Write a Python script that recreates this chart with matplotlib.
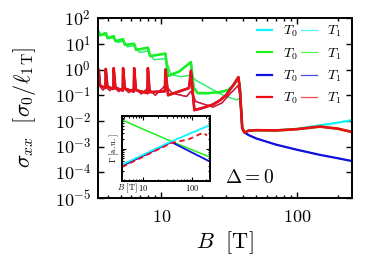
import numpy as np
import matplotlib
matplotlib.use('Agg')
import matplotlib.pyplot as plt
from matplotlib.lines import Line2D
from matplotlib.ticker import FixedLocator, FixedFormatter, NullFormatter, NullLocator

plt.rcParams['mathtext.fontset'] = 'cm'
plt.rcParams['font.family'] = ['DejaVu Serif']

# ---------------- data (log10 of sigma_xx) ----------------
# Shubnikov-de Haas regime (B < 39.5 T); cyan = green, blue = red there
green_T0_B = [3.40, 3.44, 3.54, 3.88, 4.00, 4.44, 4.58, 5.21, 5.38, 6.29, 6.50, 7.94, 8.25,
              10.7, 11.2, 13.5, 16.5, 17.3, 18.5, 22.0, 27.0, 31.0, 34.0, 36.0, 37.0, 38.0, 39.0]
green_T0_log = [1.44, 1.47, 1.33, 1.42, 1.22, 1.30, 1.10, 1.18, 0.96, 1.00, 0.76, 0.85, 0.52,
                0.62, -0.25, -0.08, 0.29, -0.70, -0.92, -0.92, -0.88, -0.80, -0.62, -0.42, -0.30, -0.75, -1.80]

green_T1_B = [3.40, 3.60, 3.88, 4.10, 4.44, 4.75, 5.21, 5.60, 6.29, 6.90, 7.94, 8.80, 10.7,
              11.8, 14.0, 16.5, 18.0, 22.7, 28.0, 33.0, 36.0, 37.5, 38.5, 39.0]
green_T1_log = [1.40, 1.33, 1.35, 1.20, 1.24, 1.05, 1.09, 0.88, 0.92, 0.66, 0.72, 0.38, 0.42,
                -0.20, -0.28, -0.22, -0.42, -0.72, -0.98, -1.12, -1.18, -1.12, -1.60, -1.95]

red_T0_B = [3.40, 3.44, 3.52, 3.86, 3.88, 3.99, 4.42, 4.44, 4.57, 5.18, 5.21, 5.37, 6.25, 6.29,
            6.48, 7.89, 7.94, 8.18, 10.6, 10.7, 11.2, 16.0, 16.5, 17.5, 20.0, 24.0, 27.0, 30.0,
            34.0, 36.0, 37.0, 38.0, 39.0]
red_T0_log = [-0.55, 0.00, -0.62, -0.72, 0.02, -0.66, -0.76, 0.05, -0.70, -0.82, 0.05, -0.74, -0.86, 0.05,
              -0.80, -0.92, 0.05, -0.88, -0.85, 0.00, -1.00, -0.72, -0.05, -1.58, -1.50, -1.36, -1.20, -1.00,
              -0.60, -0.40, -0.30, -0.80, -1.80]

red_T1_B = [3.40, 3.44, 3.70, 3.88, 4.15, 4.44, 4.85, 5.21, 5.75, 6.29, 7.10, 7.94, 9.00, 10.7,
            12.0, 15.3, 16.5, 18.0, 24.0, 28.0, 32.0, 35.0, 36.8, 38.0, 39.0]
red_T1_log = [-0.70, -0.60, -0.80, -0.66, -0.82, -0.68, -0.86, -0.70, -0.90, -0.72, -0.95, -0.72, -1.00, -0.62,
              -0.92, -1.05, -0.85, -1.25, -1.46, -1.30, -0.95, -0.75, -0.62, -1.00, -1.85]

# high-field regime (B >= 39.5 T)
tail_B = [39.5, 41.0, 44.0, 50.0, 70.0, 100.0, 148.0, 200.0, 255.0]
red_tail_log = [-2.28, -2.45, -2.38, -2.36, -2.37, -2.32, -2.22, -2.30, -2.43]
cyan_tail_log = [-2.28, -2.45, -2.38, -2.36, -2.37, -2.31, -2.17, -2.07, -1.97]
blue_tail_log = [-2.28, -2.45, -2.55, -2.68, -2.92, -3.12, -3.32, -3.45, -3.56]

# inset: Gamma (a.u.)
inset_green_B = [3.6, 37.8, 235.0]
inset_green = [0.88, 0.22, -0.26]
inset_blue_B = [3.6, 37.8, 235.0]
inset_blue = [-0.54, 0.20, -0.40]
inset_cyan_B = [3.6, 37.8, 235.0]
inset_cyan = [-0.50, 0.22, 0.72]
inset_red_B = [3.6, 37.8, 88.0, 150.0, 175.0, 205.0]
inset_red = [-0.57, 0.17, 0.29, 0.45, 0.48, 0.40]

ytick_vals = [1e-5, 1e-4, 1e-3, 1e-2, 1e-1, 1e0, 1e1, 1e2]
ytick_labels = [r'$10^{-5}$', r'$10^{-4}$', r'$10^{-3}$', r'$10^{-2}$', r'$10^{-1}$',
                r'$10^{0}$', r'$10^{1}$', r'$10^{2}$']
xtick_vals = [10, 100]
xtick_labels = [r'$10$', r'$100$']

C_CYAN = '#10f4ff'
C_GREEN = '#1ef01e'
C_BLUE = '#1010e0'
C_RED = '#ec0f14'

def P(a):
    return 10.0 ** np.asarray(a)

fig = plt.figure(figsize=(3.74, 2.62), dpi=100)
ax = fig.add_axes([0.262, 0.244, 0.679, 0.687])
ax.set_xscale('log')
ax.set_yscale('log')

lw0, lw1, a1 = 1.6, 0.9, 0.75
# cyan
ax.plot(green_T0_B + tail_B, P(green_T0_log + cyan_tail_log), color=C_CYAN, lw=lw0)
ax.plot(green_T1_B + tail_B, P(green_T1_log + cyan_tail_log), color=C_CYAN, lw=lw1, alpha=a1)
# green
ax.plot(green_T0_B + tail_B, P(green_T0_log + red_tail_log), color=C_GREEN, lw=lw0 + 0.2)
ax.plot(green_T1_B + tail_B, P(green_T1_log + red_tail_log), color=C_GREEN, lw=lw1, alpha=a1)
# blue
ax.plot(red_T0_B + tail_B, P(red_T0_log + blue_tail_log), color=C_BLUE, lw=lw0)
ax.plot(red_T1_B + tail_B, P(red_T1_log + blue_tail_log), color=C_BLUE, lw=lw1, alpha=a1)
# red
ax.plot(red_T0_B + tail_B, P(red_T0_log + red_tail_log), color=C_RED, lw=lw0 + 0.3)
ax.plot(red_T1_B + tail_B, P(red_T1_log + red_tail_log), color=C_RED, lw=lw1 + 0.2, alpha=0.85)

ax.set_xlim(3.4, 255)
ax.set_ylim(1e-5, 1e2)
ax.yaxis.set_major_locator(FixedLocator(ytick_vals))
ax.yaxis.set_major_formatter(FixedFormatter(ytick_labels))
ax.yaxis.set_minor_locator(NullLocator())
ax.xaxis.set_major_locator(FixedLocator(xtick_vals))
ax.xaxis.set_major_formatter(FixedFormatter(xtick_labels))
ax.xaxis.set_minor_formatter(NullFormatter())
ax.tick_params(which='both', direction='in', top=True, right=True, width=1.0)
ax.tick_params(which='major', length=4, labelsize=13)
ax.tick_params(which='minor', length=2)
ax.tick_params(axis='x', pad=7)
ax.tick_params(axis='y', pad=5)
for s in ax.spines.values():
    s.set_linewidth(1.4)

fig.text(25 / 374, 1 - 107 / 262, r'$\sigma_{xx}\ \ [\sigma_0/\ell_{1\,\mathrm{T}}]$',
         rotation=90, ha='center', va='center', fontsize=16)
fig.text(225 / 374, 1 - 243 / 262, r'$B\ \ [\mathrm{T}]$', ha='center', va='center', fontsize=16)
fig.text(250 / 374, 1 - 178 / 262, r'$\Delta=0$', ha='center', va='center', fontsize=14)

# legend
handles = [
    Line2D([], [], color=C_CYAN, lw=lw0), Line2D([], [], color=C_GREEN, lw=lw0),
    Line2D([], [], color=C_BLUE, lw=lw0), Line2D([], [], color=C_RED, lw=lw0),
    Line2D([], [], color=C_CYAN, lw=lw1, alpha=a1), Line2D([], [], color=C_GREEN, lw=lw1, alpha=a1),
    Line2D([], [], color=C_BLUE, lw=lw1, alpha=a1), Line2D([], [], color=C_RED, lw=lw1, alpha=a1),
]
labels = [r'$T_0$'] * 4 + [r'$T_1$'] * 4
fig.legend(handles, labels, ncol=2, loc='upper left', bbox_to_anchor=(257 / 374, 1 - 24 / 262),
           frameon=False, fontsize=10, handlelength=1.1, handletextpad=0.75, columnspacing=0.3,
           labelspacing=0.5, borderpad=0, borderaxespad=0)

# inset
axi = fig.add_axes([0.326, 0.309, 0.235, 0.248])
axi.set_xscale('log')
axi.set_yscale('log')
axi.plot(inset_green_B, P(inset_green), color=C_GREEN, lw=1.1)
axi.plot(inset_blue_B, P(inset_blue), color=C_BLUE, lw=1.3)
axi.plot(inset_cyan_B, P(inset_cyan), color=C_CYAN, lw=1.3)
axi.plot(inset_red_B, P(inset_red), color=C_RED, lw=1.3, ls=(0, (3, 2)))
axi.set_xlim(3.6, 235)
axi.set_ylim(0.1, 10)
axi.xaxis.set_major_locator(FixedLocator(xtick_vals))
axi.xaxis.set_major_formatter(FixedFormatter(xtick_labels))
axi.xaxis.set_minor_formatter(NullFormatter())
axi.yaxis.set_major_formatter(NullFormatter())
axi.yaxis.set_minor_formatter(NullFormatter())
axi.tick_params(which='both', direction='in', top=True, right=True, width=0.8, labelsize=6, pad=1.5)
axi.tick_params(which='major', length=3)
axi.tick_params(which='minor', length=1.5)
for s in axi.spines.values():
    s.set_linewidth(1.4)
fig.text(127 / 374, 1 - 188 / 262, r'$B\ [\mathrm{T}]$', ha='center', va='center', fontsize=6)
fig.text(114 / 374, 1 - 148 / 262, r'$\Gamma\ [\mathrm{a.u.}]$', rotation=90,
         ha='center', va='center', fontsize=6)

fig.savefig('out.png', dpi=100)
